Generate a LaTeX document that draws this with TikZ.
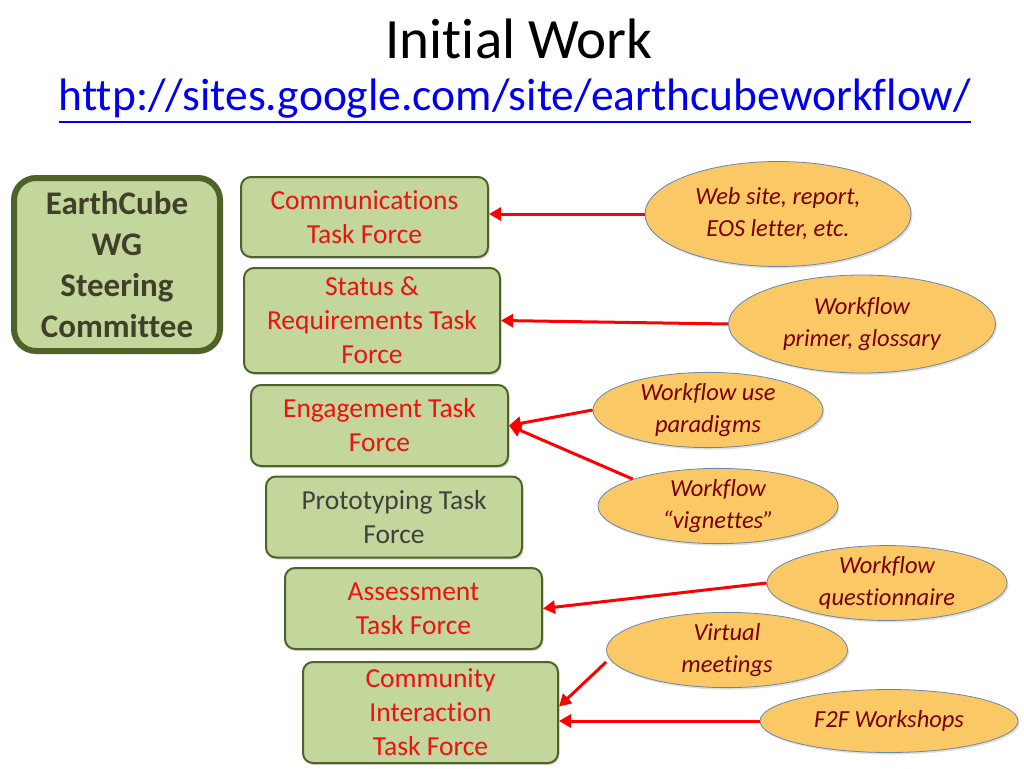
\documentclass[tikz,border=0pt]{standalone}
\usepackage{fontspec}
\setmainfont{Carlito}[Ligatures=NoCommon]
\usepackage{xcolor}
\usetikzlibrary{arrows.meta,shapes.geometric,shadows}
\definecolor{boxgreen}{HTML}{C3D69B}
\definecolor{boxedge}{HTML}{4F6228}
\definecolor{steertext}{HTML}{3F3F2A}
\definecolor{bubblefill}{HTML}{FAC864}
\definecolor{bubbleedge}{HTML}{6A86AE}
\definecolor{bubbletext}{HTML}{7A0000}
\definecolor{tfred}{HTML}{EE1111}
\definecolor{linkblue}{HTML}{0000EE}

\tikzset{
  steerbox/.style={draw=boxedge, line width=6pt, fill=boxgreen, rounded corners=22pt,
    align=center, text=steertext, inner sep=0pt,
    font=\bfseries\fontsize{33}{41}\selectfont,
    drop shadow={shadow xshift=2pt, shadow yshift=-2pt, opacity=0.3}},
  taskbox/.style={draw=boxedge, line width=2pt, fill=boxgreen, rounded corners=10pt,
    align=center, text=tfred, inner sep=0pt, minimum width=256pt, minimum height=81pt,
    font=\fontsize{27.5}{34}\selectfont,
    drop shadow={shadow xshift=1.5pt, shadow yshift=-2pt, opacity=0.3}},
  ideabubble/.style={ellipse, draw=bubbleedge, line width=0.8pt, fill=bubblefill,
    align=center, text=bubbletext, inner sep=0pt,
    font=\itshape\fontsize{24.5}{32}\selectfont,
    drop shadow={shadow xshift=1.5pt, shadow yshift=-2pt, opacity=0.25}},
  feedarrow/.style={draw=red, line width=3pt, -{Triangle[length=12pt,width=13pt]}}
}

\begin{document}
\begin{tikzpicture}[x=1pt, y=-1pt]
\useasboundingbox[fill=white] (0,0) rectangle (1024,768);

\node[anchor=base, font=\fontsize{57}{62}\selectfont] (title) at (519,59) {Initial Work};
\node[anchor=base, inner sep=0pt, text=linkblue, font=\fontsize{45.5}{50}\selectfont] (url) at (515,110)
  {http://sites.google.com/site/earthcubeworkflow/};
\draw[linkblue, line width=2.5pt] ([yshift=-12pt]url.base west) -- ([yshift=-12pt]url.base east);

% steering committee
\node[steerbox, minimum width=206pt, minimum height=173pt] (steer) at (117,264.5)
  {EarthCube\\WG\\Steering\\Committee};

% task forces
\node[taskbox, minimum width=247pt, minimum height=80pt] (comm) at (364.5,217) {Communications\\Task Force};
\node[taskbox, minimum height=105pt] (status) at (372,320.5) {Status \&\\Requirements Task\\Force};
\node[taskbox, minimum width=257pt] (engage) at (379.5,425.5) {Engagement Task\\Force};
\node[taskbox, text=black!75] (proto) at (394,517) {Prototyping Task\\Force};
\node[taskbox, minimum width=257pt] (assess) at (413.5,608.5) {Assessment\\Task Force};
\node[taskbox, minimum width=255pt, minimum height=101pt] (cint) at (430.5,712.5) {Community\\Interaction\\Task Force};

% inputs
\node[ideabubble, minimum width=266pt, minimum height=105pt] (site) at (778,214) {Web site, report,\\EOS letter, etc.};
\node[ideabubble, minimum width=267pt, minimum height=98pt] (primer) at (862,324) {Workflow\\primer, glossary};
\node[ideabubble, minimum width=230pt, minimum height=68pt] (paradigm) at (708,410) {Workflow use\\paradigms};
\node[ideabubble, minimum width=240pt, minimum height=68pt] (vignette) at (718,506) {Workflow\\``vignettes''};
\node[ideabubble, minimum width=240pt, minimum height=66pt] (quest) at (887,583) {Workflow\\questionnaire};
\node[ideabubble, minimum width=241pt, minimum height=66pt] (virtual) at (727,650) {Virtual\\meetings};
\node[ideabubble, minimum width=258pt, minimum height=63pt] (ftf) at (889,721) {F2F Workshops};

\draw[feedarrow] (site.west) -- (site.west -| comm.east);
\draw[feedarrow] (primer.west) -- (status.east);
\draw[feedarrow] (paradigm.west) -- (engage.east);
\draw[feedarrow] (vignette.north west) -- (engage.east);
\draw[feedarrow] (quest.west) -- (assess.east);
\draw[feedarrow] ([yshift=-12pt]virtual.west) -- ([yshift=6pt]cint.east);
\draw[feedarrow] (ftf.west) -- (ftf.west -| cint.east);
\end{tikzpicture}
\end{document}
